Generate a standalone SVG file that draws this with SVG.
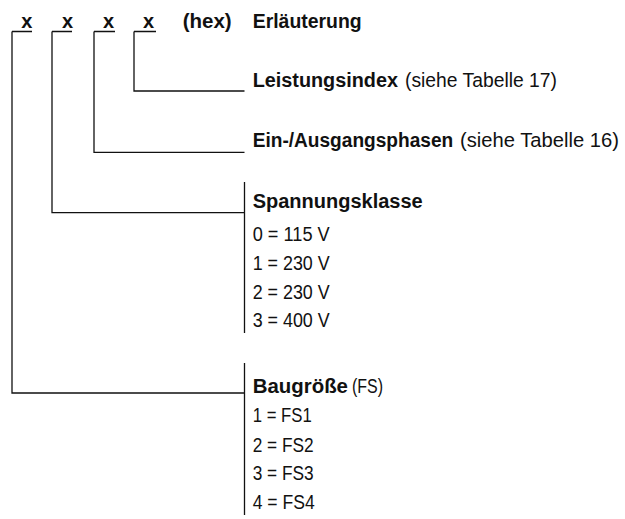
<svg xmlns="http://www.w3.org/2000/svg" width="625" height="519" viewBox="0 0 625 519">
<style>
.t{font-family:"Liberation Sans",Arial,sans-serif;font-size:20.5px;fill:#111}
.b{font-weight:bold;font-size:19.5px}
.x{font-family:"Liberation Sans",Arial,sans-serif;font-weight:bold;font-size:20px;fill:#111;text-anchor:middle}
.ln{stroke:#111;stroke-width:1.3;fill:none}
</style>
<rect width="625" height="519" fill="#fff"/>
<g id="header">
<text class="x" x="26.8" y="27.5">x</text>
<text class="x" x="67.5" y="27.5">x</text>
<text class="x" x="108.5" y="27.5">x</text>
<text class="x" x="148.6" y="27.5">x</text>
<text class="t b" x="182.7" y="27.5" textLength="49" lengthAdjust="spacingAndGlyphs">(hex)</text>
<text class="t b" x="252.7" y="27.5" textLength="109" lengthAdjust="spacingAndGlyphs">Erläuterung</text>
</g>
<g id="connectors">
<path class="ln" d="M12 31.5H32M52 31.5H72M94 31.5H115M134 31.5H156"/>
<path class="ln" d="M134 31.5V91H244.5"/>
<path class="ln" d="M94 31.5V152.3H244.5"/>
<path class="ln" d="M52 31.5V212.7H244.5M244.5 182V333"/>
<path class="ln" d="M12 31.5V393H244.5M244.5 363V515"/>
</g>
<g id="leistungsindex">
<text class="t b" x="252.7" y="86.7" textLength="145.3" lengthAdjust="spacingAndGlyphs">Leistungsindex</text>
<text class="t" x="405" y="86.7" textLength="152" lengthAdjust="spacingAndGlyphs">(siehe Tabelle 17)</text>
</g>
<g id="phasen">
<text class="t b" x="252.7" y="146.7" textLength="200.5" lengthAdjust="spacingAndGlyphs">Ein-/Ausgangsphasen</text>
<text class="t" x="460" y="146.7" textLength="159" lengthAdjust="spacingAndGlyphs">(siehe Tabelle 16)</text>
</g>
<g id="spannungsklasse">
<text class="t b" x="252.7" y="207.5" textLength="170" lengthAdjust="spacingAndGlyphs">Spannungsklasse</text>
<text class="t" x="252.7" y="240.5" textLength="77" lengthAdjust="spacingAndGlyphs">0 = 115 V</text>
<text class="t" x="252.7" y="269.5" textLength="77" lengthAdjust="spacingAndGlyphs">1 = 230 V</text>
<text class="t" x="252.7" y="298.5" textLength="77" lengthAdjust="spacingAndGlyphs">2 = 230 V</text>
<text class="t" x="252.7" y="327" textLength="77" lengthAdjust="spacingAndGlyphs">3 = 400 V</text>
</g>
<g id="baugroesse">
<text class="t b" x="252.7" y="393" textLength="95.3" lengthAdjust="spacingAndGlyphs">Baugröße</text>
<text class="t" x="352" y="393" textLength="31" lengthAdjust="spacingAndGlyphs">(FS)</text>
<text class="t" x="252.7" y="422" textLength="59" lengthAdjust="spacingAndGlyphs">1 = FS1</text>
<text class="t" x="252.7" y="451.5" textLength="61" lengthAdjust="spacingAndGlyphs">2 = FS2</text>
<text class="t" x="252.7" y="480" textLength="61" lengthAdjust="spacingAndGlyphs">3 = FS3</text>
<text class="t" x="252.7" y="508.5" textLength="62" lengthAdjust="spacingAndGlyphs">4 = FS4</text>
</g>
</svg>
